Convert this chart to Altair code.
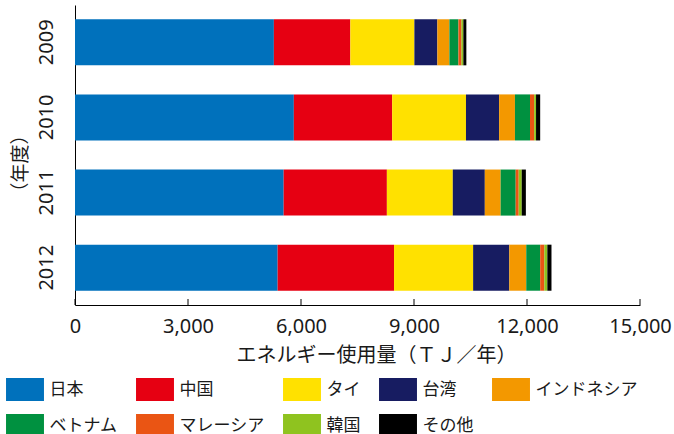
import altair as alt
import pandas as pd

years = ["2009", "2010", "2011", "2012"]
countries = ["日本", "中国", "タイ", "台湾", "インドネシア", "ベトナム", "マレーシア", "韓国", "その他"]
japan = [5280, 5810, 5540, 5380]
china = [2030, 2610, 2740, 3090]
thai = [1700, 1960, 1750, 2100]
taiwan = [610, 880, 850, 960]
indonesia = [320, 420, 420, 450]
vietnam = [240, 400, 400, 370]
malaysia = [80, 110, 80, 110]
korea = [50, 50, 80, 80]
other = [80, 110, 110, 110]
colors = ["#0071BC", "#E60012", "#FFE100", "#171C61", "#F39800",
          "#009140", "#EA5514", "#8FC31F", "#000000"]
x_ticks = [0, 3000, 6000, 9000, 12000, 15000]

series = [japan, china, thai, taiwan, indonesia, vietnam, malaysia, korea, other]
rows = []
for ci, (c, vals) in enumerate(zip(countries, series)):
    for y, v in zip(years, vals):
        rows.append({"year": y, "country": c, "value": v, "order": ci})
df = pd.DataFrame(rows)
tdf = pd.DataFrame({"t": x_ticks})

JP = "Noto Sans CJK JP"
NUM = "Noto Sans"
TXT = "#1a1a1a"

xscale = alt.Scale(domain=[0, 15000], nice=False)
xaxis = alt.Axis(values=x_ticks, format=",.0f", grid=False, ticks=False,
                 domainColor="black", domainWidth=1,
                 labelFont=NUM, labelFontSize=20, labelColor=TXT,
                 labelPadding=11, labelFlush=False,
                 title="エネルギー使用量（ＴＪ／年）", titleFont=JP,
                 titleFontSize=20, titleFontWeight="normal", titleColor=TXT,
                 titleX=301, titleY=50, titleAlign="center",
                 titleBaseline="middle")

bars = alt.Chart(df).mark_bar().encode(
    x=alt.X("value:Q", stack="zero", scale=xscale, axis=xaxis),
    y=alt.Y("year:N", sort=years,
            scale=alt.Scale(paddingInner=0.387, paddingOuter=0.19),
            axis=alt.Axis(ticks=False, domainColor="black", domainWidth=1,
                          labelAngle=270, labelAlign="center", labelBaseline="bottom",
                          labelFont=NUM, labelFontSize=20, labelColor=TXT,
                          labelPadding=19,
                          title="（年度）", titleFont=JP, titleFontSize=19,
                          titleFontWeight="normal", titleColor=TXT,
                          titleAngle=270, titleX=-55, titleY=158,
                          titleAlign="center", titleBaseline="middle")),
    color=alt.Color("country:N", scale=alt.Scale(domain=countries, range=colors),
                    legend=alt.Legend(title=None, orient="none", legendX=-69, legendY=373,
                                      direction="horizontal",
                                      columns=5, gridAlign="each", columnPadding=18,
                                      rowPadding=13, padding=0,
                                      symbolType="M-1.65,-1H1.65V1H-1.65Z",
                                      symbolSize=529, symbolStrokeWidth=0,
                                      symbolOpacity=1, symbolOffset=7.5,
                                      labelOffset=13, labelFont=JP, labelFontSize=17,
                                      labelColor=TXT)),
    order=alt.Order("order:Q", sort="ascending"),
)

ticks = alt.Chart(tdf).mark_rule(color="black", strokeWidth=1).encode(
    x=alt.X("t:Q", scale=xscale, axis=xaxis),
    y=alt.value(294),
    y2=alt.value(300),
)

chart = alt.layer(bars, ticks).properties(
    width=565, height=300,
    autosize=alt.AutoSizeParams(type="none"),
    padding={"left": 75, "top": 5, "right": 34, "bottom": 129},
    background="white",
).configure_view(strokeWidth=0)

chart.save("out.html", embed_options={"renderer": "svg", "actions": False})
